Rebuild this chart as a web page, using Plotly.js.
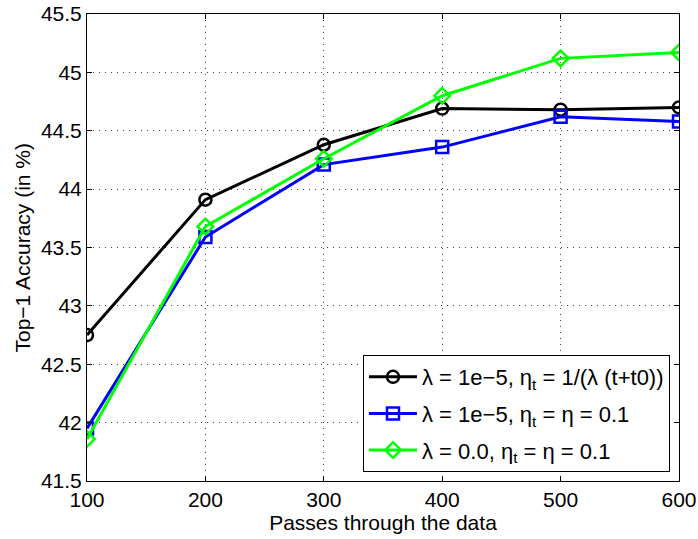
<!DOCTYPE html>
<html><head><meta charset="utf-8">
<script src="https://cdn.plot.ly/plotly-3.0.1.min.js"></script>
<style>body{margin:0;background:#fff}#c{width:698px;height:539px}</style>
</head><body><div id="c"></div>
<script>
var passes = [100, 200, 300, 400, 500, 600];
var accDecay = [42.75, 43.91, 44.38, 44.69, 44.68, 44.70];
var accConstReg = [41.95, 43.59, 44.21, 44.36, 44.62, 44.58];
var accConstNoReg = [41.86, 43.68, 44.26, 44.80, 45.12, 45.17];
var names = [
  "λ = 1e−5, η<sub>t</sub> = 1/(λ (t+t0))",
  "λ = 1e−5, η<sub>t</sub> = η = 0.1",
  "λ = 0.0, η<sub>t</sub> = η = 0.1"
];
var yTicks = [41.5, 42, 42.5, 43, 43.5, 44, 44.5, 45, 45.5];
var xTicks = [100, 200, 300, 400, 500, 600];

var FONT = 'Liberation Sans, Arial, sans-serif';
function tr(y, name, color, symbol, grp) {
  return {x: passes, y: y, name: name, type: 'scatter', mode: 'lines+markers',
    legendgroup: grp,
    line: {color: color, width: 3},
    marker: {symbol: symbol, size: 12, color: color, line: {color: color, width: 2.5}}};
}
var data = [
  tr(accDecay, names[0], '#000000', 'circle-open', 'a'),
  tr(accConstReg, names[1], '#0000ff', 'square-open', 'b'),
  tr(accConstNoReg, names[2], '#00ff00', 'diamond-open', 'c')
];
var axisCommon = {
  showline: true, linecolor: '#000', linewidth: 1, mirror: 'ticks',
  ticks: 'inside', ticklen: 5, tickcolor: '#000', tickwidth: 1,
  showgrid: true, gridcolor: '#444', griddash: '1px,5px', gridwidth: 1,
  zeroline: false,
  tickfont: {family: FONT, size: 21, color: '#000'}
};
var layout = {
  width: 698, height: 539,
  margin: {l: 87, r: 19, t: 14, b: 58},
  paper_bgcolor: '#fff', plot_bgcolor: '#fff',
  showlegend: true,
  xaxis: Object.assign({}, axisCommon, {
    range: [100, 600], tickvals: xTicks, ticktext: xTicks.map(String),
    title: {text: 'Passes through the data', standoff: 2,
      font: {family: FONT, size: 21, color: '#000'}}
  }),
  yaxis: Object.assign({}, axisCommon, {
    range: [41.5, 45.5], tickvals: yTicks, ticktext: yTicks.map(String)
  }),
  annotations: [{
    text: 'Top−1 Accuracy (in %)', textangle: -90, showarrow: false,
    xref: 'paper', yref: 'paper', x: (22 - 87) / 592, y: 0.5,
    xanchor: 'center', yanchor: 'middle',
    font: {family: FONT, size: 21, color: '#000'}
  }],
  legend: {
    x: (670 - 87) / 592, y: (481 - 472) / 467, xanchor: 'right', yanchor: 'bottom',
    bgcolor: '#fff', bordercolor: '#000', borderwidth: 1,
    font: {family: FONT, size: 22, color: '#000'},
    itemwidth: 48, tracegroupgap: 5, traceorder: 'grouped'
  }
};
Plotly.newPlot('c', data, layout, {displayModeBar: false, staticPlot: true});
</script></body></html>
